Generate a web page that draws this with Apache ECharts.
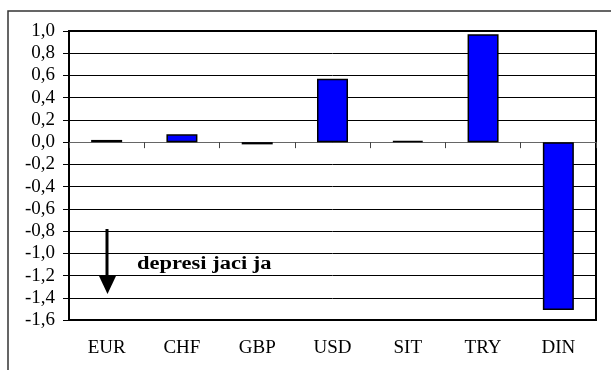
<!DOCTYPE html>
<html>
<head>
<meta charset="utf-8">
<script src="https://cdn.jsdelivr.net/npm/echarts@6/dist/echarts.min.js"></script>
<style>
	html, body { margin: 0; padding: 0; background: #fff; }
	#chart { width: 611px; height: 370px; }
</style>
</head>
<body>
<div id="chart"></div>
<script>
var categories = ['EUR', 'CHF', 'GBP', 'USD', 'SIT', 'TRY', 'DIN'];
var values = [0.02, 0.07, -0.02, 0.57, 0.01, 0.97, -1.51];
var yMin = -1.6, yMax = 1.0, yStep = 0.2;

function echartsMain() {
	var myChart = echarts.init(document.getElementById('chart'));
	var serif = '"Liberation Serif", "Times New Roman", serif';
	var option = {
		animation: false,
		grid: {
			left: 69, top: 31, right: 15, bottom: 50,
			show: true,
			borderColor: '#000',
			borderWidth: 2
		},
		xAxis: [{
			// axis drawn at zero with the ticks between categories
			type: 'category',
			data: categories,
			axisLine: { onZero: true, lineStyle: { color: '#666', width: 1 } },
			axisTick: { show: true, length: 6, lineStyle: { color: '#444' } },
			axisLabel: { show: false }
		}, {
			// labels at the bottom
			type: 'category',
			data: categories,
			position: 'bottom',
			axisLine: { show: false },
			axisTick: { show: false },
			axisLabel: { margin: 19, color: '#000', fontFamily: serif, fontSize: 19 }
		}],
		yAxis: {
			type: 'value',
			min: yMin, max: yMax, interval: yStep,
			axisLine: { show: true, lineStyle: { color: '#000', width: 2 } },
			axisTick: { show: true, length: 6, lineStyle: { color: '#000' } },
			splitLine: { lineStyle: { color: '#000', width: 1 } },
			axisLabel: {
				margin: 14,
				color: '#000',
				fontFamily: serif,
				fontSize: 19,
				formatter: function(v) { return v.toFixed(1).replace('.', ','); }
			}
		},
		series: [{
			type: 'bar',
			xAxisIndex: 0,
			barWidth: 31,
			itemStyle: { color: '#0000ff', borderColor: '#000', borderWidth: 1.5 },
			data: values
		}],
		graphic: [{
			type: 'rect',
			shape: { x: 8, y: 11, width: 700, height: 500 },
			style: { fill: null, stroke: '#333', lineWidth: 1.5 },
			silent: true
		}, {
			type: 'line',
			shape: { x1: 107, y1: 229, x2: 107, y2: 278 },
			style: { stroke: '#000', lineWidth: 3 },
			z: 10
		}, {
			type: 'polygon',
			shape: { points: [[99, 276], [116, 276], [107.5, 294]] },
			style: { fill: '#000' },
			z: 10
		}, {
			type: 'text',
			x: 137, y: 255,
			scaleX: 1.25,
			style: {
				text: 'depresi jaci ja',
				font: 'bold 18px ' + serif,
				fill: '#000'
			},
			z: 10
		}]
	};
	myChart.setOption(option);
}
echartsMain();
</script>
</body>
</html>
